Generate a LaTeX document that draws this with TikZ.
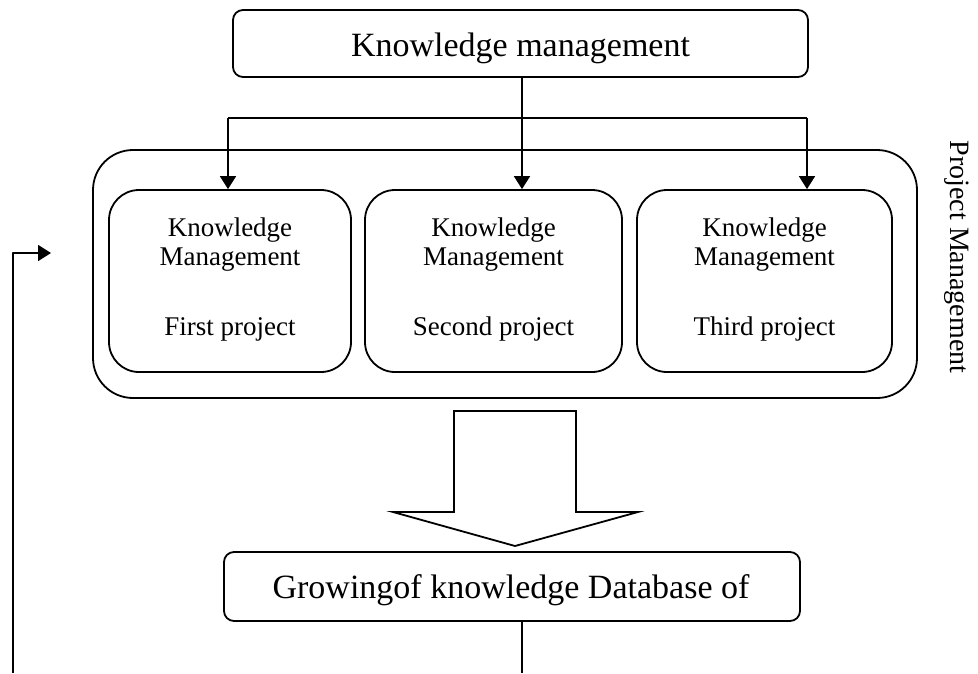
\documentclass[tikz,border=0pt]{standalone}
\usepackage{fontspec}
\setmainfont{Liberation Serif}
\usetikzlibrary{arrows.meta}

\tikzset{
  line/.style={line width=1.8pt, line join=round},
  headbox/.style={line, draw, rounded corners=10pt, inner sep=0pt,
    font=\fontsize{34}{40}\selectfont},
  groupbox/.style={line, draw, rounded corners=40pt, inner sep=0pt},
  projbox/.style={line, draw, rounded corners=30pt, inner sep=0pt},
  projtext/.style={anchor=base, inner sep=0pt, font=\fontsize{27}{31}\selectfont},
  feed/.style={line, -{Triangle[length=13pt,width=16pt]}},
  bigarrow/.style={line, draw, fill=white, line join=miter},
}

\begin{document}
\begin{tikzpicture}[x=1pt, y=-1pt]
  \useasboundingbox (0,0) rectangle (978,673);

  % top box
  \node[headbox, minimum width=575pt, minimum height=67pt] (km) at (520.5,43.5) {};
  \node[anchor=base, inner sep=0pt, font=\fontsize{34}{40}\selectfont] (kmtext) at (520.5,56) {Knowledge management};

  % project management group
  \node[groupbox, minimum width=824pt, minimum height=248pt] (pm) at (505,274) {};
  \node[rotate=-90, inner sep=0pt, font=\fontsize{28}{32}\selectfont] (pmlabel) at (957,257) {Project Management};

  % the three projects
  \node[projbox, minimum width=242pt, minimum height=182pt] (p1) at (230,281) {};
  \node[projbox, minimum width=257pt, minimum height=182pt] (p2) at (493.5,281) {};
  \node[projbox, minimum width=255pt, minimum height=182pt] (p3) at (764.5,281) {};

  \node[projtext] (p1a) at (230,236) {Knowledge};
  \node[projtext] (p1b) at (230,265) {Management};
  \node[projtext] (p1c) at (230,335) {First project};
  \node[projtext] (p2a) at (493.5,236) {Knowledge};
  \node[projtext] (p2b) at (493.5,265) {Management};
  \node[projtext] (p2c) at (493.5,335) {Second project};
  \node[projtext] (p3a) at (764.5,236) {Knowledge};
  \node[projtext] (p3b) at (764.5,265) {Management};
  \node[projtext] (p3c) at (764.5,335) {Third project};

  % distribution from the top box
  \coordinate (split) at (522,118);
  \coordinate (splitL) at (228,118);
  \coordinate (splitR) at (807,118);
  \draw[line] (km.south -| split) -- (split);
  \draw[line] (splitL) -- (splitR);
  \draw[feed] (splitL) -- (splitL |- p1.north);
  \draw[feed] (split) -- (split |- p2.north);
  \draw[feed] (splitR) -- (splitR |- p3.north);

  % block arrow
  \draw[bigarrow] (454,411) -- (576,411) -- (576,512) -- (638,512) -- (515,546)
    -- (393,512) -- (454,512) -- cycle;

  % database box
  \node[headbox, minimum width=576pt, minimum height=69pt] (db) at (512,586.5) {};
  \node[anchor=base, inner sep=0pt, font=\fontsize{34}{40}\selectfont] (dbtext) at (511,598) {Growingof knowledge Database of};

  % outgoing line and feedback
  \coordinate (dbout) at (522,673);
  \draw[line] (db.south -| dbout) -- (dbout);
  \coordinate (fbstart) at (13,673);
  \coordinate (fbcorner) at (13,253);
  \coordinate (fbend) at (51,253);
  \draw[feed] (fbstart) -- (fbcorner) -- (fbend);
\end{tikzpicture}
\end{document}
